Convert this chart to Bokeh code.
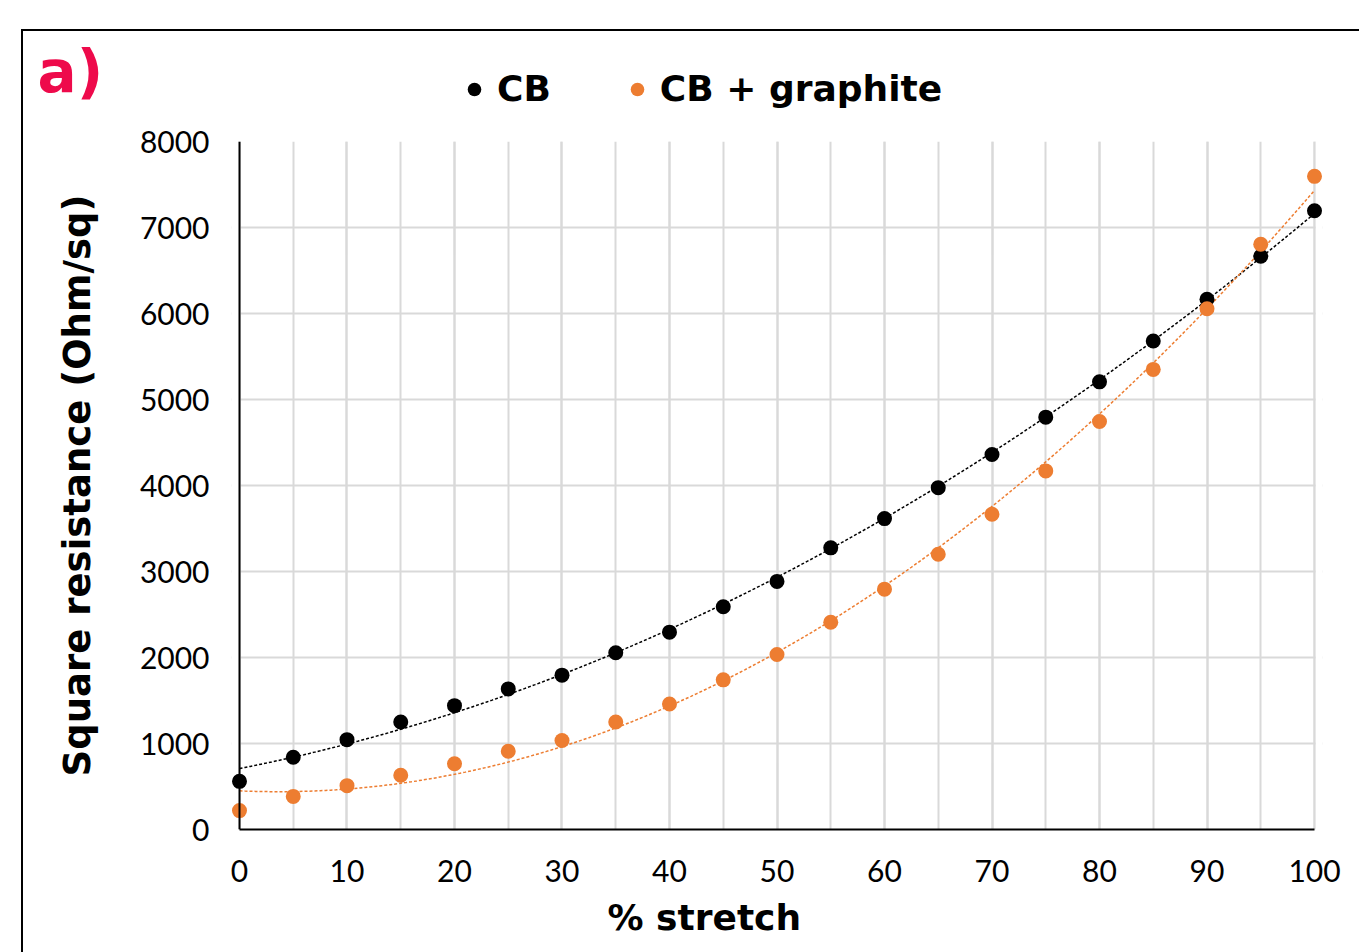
import numpy as np
from bokeh.plotting import figure
from bokeh.layouts import column
from bokeh.models import (Range1d, FixedTicker, Label, Legend, LegendItem,
                          BoxAnnotation, Span, ColumnDataSource, Title)
from bokeh.embed import file_html
from bokeh.resources import INLINE

# ---- data ----
stretch = [0, 5, 10, 15, 20, 25, 30, 35, 40, 45, 50, 55, 60, 65, 70, 75, 80, 85, 90, 95, 100]
cb = [560, 840, 1045, 1250, 1440, 1635, 1795, 2055, 2295, 2590, 2885, 3275, 3615, 3975,
      4360, 4795, 5205, 5680, 6165, 6665, 7195]
cb_graphite = [220, 385, 510, 630, 765, 910, 1035, 1250, 1460, 1740, 2035, 2410, 2795, 3200,
               3665, 4170, 4745, 5350, 6055, 6805, 7595]
series_names = ["CB", "CB + graphite"]
x_ticks = [0, 10, 20, 30, 40, 50, 60, 70, 80, 90, 100]
x_minor = [0, 5, 10, 15, 20, 25, 30, 35, 40, 45, 50, 55, 60, 65, 70, 75, 80, 85, 90, 95, 100]
y_ticks = [0, 1000, 2000, 3000, 4000, 5000, 6000, 7000, 8000]

BLACK = "#000000"
ORANGE = "#ED7D31"
GRID = "#D9D9D9"
PINK = "#EE0A4B"
TICK_FONT = "Lato"
BOLD_FONT = "DejaVu Sans"

# ---- layout sizes ----
CW = 1336          # content width inside the framed box
HEAD_H = 90
MAIN_H = 831
pad = 0.744        # keeps markers at x=0 / x=100 from being clipped

# ---------------- header: panel letter + legend ----------------
head = figure(width=CW, height=HEAD_H, output_backend="svg", toolbar_location=None,
              x_range=Range1d(0, CW), y_range=Range1d(HEAD_H, 0),
              x_axis_location=None, y_axis_location=None, min_border=0)
head.grid.visible = False
head.outline_line_color = None
head.frame_align = False

h1 = head.scatter(x=[-100], y=[-100], size=15, fill_color=BLACK, line_color=None)
h2 = head.scatter(x=[-100], y=[-100], size=15, fill_color=ORANGE, line_color=None)
legend = Legend(items=[LegendItem(label=series_names[0], renderers=[h1]),
                       LegendItem(label=series_names[1], renderers=[h2])],
                orientation="horizontal", location=(434, 12),
                glyph_width=34, glyph_height=34, label_standoff=6, spacing=69,
                padding=0, margin=0, border_line_color=None,
                background_fill_alpha=0,
                label_text_font=BOLD_FONT, label_text_font_style="bold",
                label_text_font_size="36px", label_text_color="black")
head.add_layout(legend, "center")
head.add_layout(Label(x=14, y=40, text="a)", text_align="left", text_baseline="middle",
                      text_font=BOLD_FONT, text_font_style="bold",
                      text_font_size="58px", text_color=PINK))

# ---------------- main chart ----------------
p = figure(width=CW, height=MAIN_H, output_backend="svg", toolbar_location=None,
           x_range=Range1d(-pad, 100 + pad), y_range=Range1d(0, 8000),
           min_border_left=208, min_border_right=37, min_border_top=20,
           min_border_bottom=123)
p.outline_line_color = None
p.frame_align = False

p.xaxis.ticker = FixedTicker(ticks=x_ticks, minor_ticks=x_minor)
p.yaxis.ticker = FixedTicker(ticks=y_ticks)
p.xaxis.bounds = (0, 100)
p.xaxis.axis_line_width = 2
p.xaxis.axis_line_color = "black"
p.yaxis.axis_line_color = None
for ax in (p.xaxis, p.yaxis):
    ax.major_tick_line_color = None
    ax.minor_tick_line_color = None
    ax.major_label_text_font = TICK_FONT
    ax.major_label_text_font_size = "30px"
    ax.major_label_text_color = "#000000"
p.xaxis.major_label_standoff = 24
p.yaxis.major_label_standoff = 16

p.yaxis.axis_label = "Square resistance (Ohm/sq)"
p.yaxis.axis_label_text_font = BOLD_FONT
p.yaxis.axis_label_text_font_style = "bold"
p.yaxis.axis_label_text_font_size = "37px"
p.yaxis.axis_label_text_color = "black"
p.yaxis.axis_label_standoff = 38

p.add_layout(Title(text="% stretch", align="left", offset=376, standoff=20,
                   text_font=BOLD_FONT, text_font_style="bold",
                   text_font_size="36px", text_color="black"), "below")

p.xgrid.ticker = FixedTicker(ticks=x_ticks, minor_ticks=x_minor)
p.xgrid.grid_line_color = GRID
p.xgrid.grid_line_width = 2
p.xgrid.minor_grid_line_color = GRID
p.xgrid.minor_grid_line_width = 2
p.ygrid.grid_line_color = GRID
p.ygrid.grid_line_width = 2

# hide grid stubs outside 0..100
p.add_layout(BoxAnnotation(left=-pad, right=0, fill_color="white", fill_alpha=1,
                           line_color=None, level="underlay"))
p.add_layout(BoxAnnotation(left=100.12, right=100 + pad, fill_color="white", fill_alpha=1,
                           line_color=None, level="underlay"))
p.add_layout(Span(location=0, dimension="height", line_color="black", line_width=2))

# trendlines: 2nd-order polynomial fits of the data
xs = np.linspace(0, 100, 201)
for ys, col in ((cb, BLACK), (cb_graphite, ORANGE)):
    coef = np.polyfit(stretch, ys, 2)
    p.line(xs, np.polyval(coef, xs), line_color=col, line_width=1.5, line_dash="3 2")

src = ColumnDataSource(dict(x=stretch, cb=cb, cbg=cb_graphite))
p.scatter("x", "cb", source=src, size=15, fill_color=BLACK, line_color=None)
p.scatter("x", "cbg", source=src, size=15, fill_color=ORANGE, line_color=None)

layout = column(head, p, spacing=0,
                styles={"border-left": "2px solid black", "border-top": "2px solid black",
                        "margin-left": "21px", "margin-top": "29px"})

open("out.html", "w").write(file_html(layout, INLINE))
